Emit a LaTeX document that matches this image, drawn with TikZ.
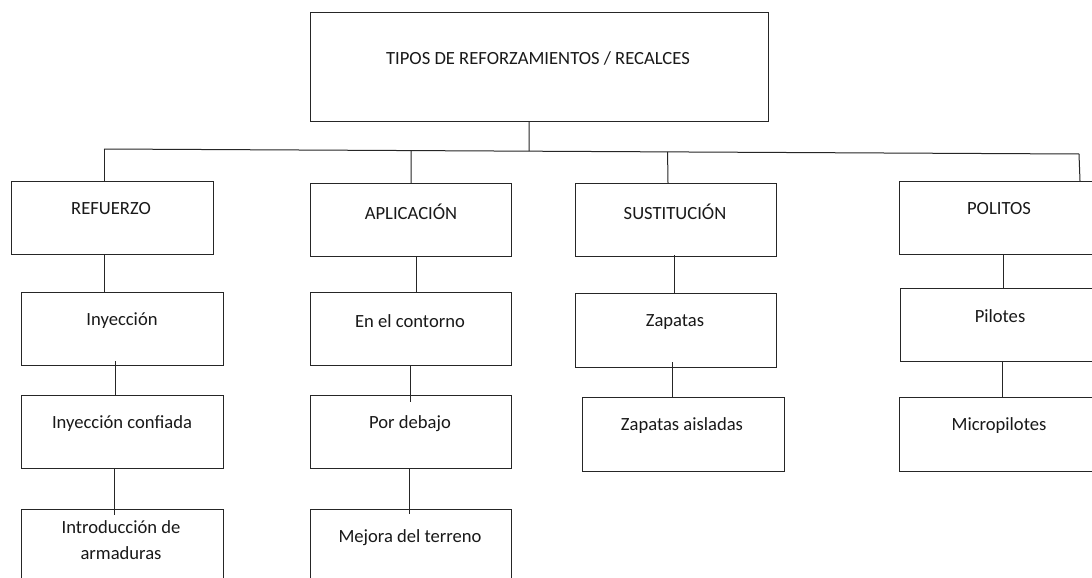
\documentclass[tikz,border=0pt]{standalone}
\usepackage{fontspec}
\setmainfont{Carlito}
\usetikzlibrary{calc}
\begin{document}
\begin{tikzpicture}[x=1pt,y=-1pt,
  box/.style={draw=black!85, line width=1.1pt, rectangle, inner sep=0pt, anchor=north west, fill=none},
  txt/.style={font=\fontsize{18.6}{26}\selectfont, text=black!90, inner sep=0pt, align=center, anchor=center},
  conn/.style={draw=black!85, line width=1pt}]
\useasboundingbox (0,0) rectangle (1092,578);
\clip (0,0) rectangle (1092,578);
\fill[white] (0,0) rectangle (1092,578);
% boxes
\node[box, minimum width=458pt, minimum height=109pt] (top) at (310,12) {};
\node[box, minimum width=202pt, minimum height=73pt] (refuerzo) at (11,181) {};
\node[box, minimum width=201pt, minimum height=73pt] (aplicacion) at (310,183) {};
\node[box, minimum width=201pt, minimum height=73pt] (sustitucion) at (575,183) {};
\node[box, minimum width=202pt, minimum height=73pt] (politos) at (899,181) {};
\node[box, minimum width=202pt, minimum height=73pt] (inyeccion) at (21,292) {};
\node[box, minimum width=201pt, minimum height=73pt] (contorno) at (310,292) {};
\node[box, minimum width=201pt, minimum height=74pt] (zapatas) at (575,293) {};
\node[box, minimum width=202pt, minimum height=73pt] (pilotes) at (900,288) {};
\node[box, minimum width=202pt, minimum height=73pt] (confiada) at (21,395) {};
\node[box, minimum width=201pt, minimum height=73pt] (debajo) at (310,395) {};
\node[box, minimum width=202pt, minimum height=74pt] (aisladas) at (582,397) {};
\node[box, minimum width=202pt, minimum height=74pt] (micro) at (899,397) {};
\node[box, minimum width=202pt, minimum height=80pt] (intro) at (21,509) {};
\node[box, minimum width=201pt, minimum height=80pt] (mejora) at (310,509) {};
% texts
\node[txt] (ttop) at (538,58) {TIPOS DE REFORZAMIENTOS / RECALCES};
\node[txt] (trefuerzo) at (111,209) {REFUERZO};
\node[txt] (taplicacion) at (411,212) {APLICACIÓN};
\node[txt] (tsustitucion) at (675,212) {SUSTITUCIÓN};
\node[txt] (tpolitos) at (999,209) {POLITOS};
\node[txt] (tinyeccion) at (122,321) {Inyección};
\node[txt] (tcontorno) at (410,321) {En el contorno};
\node[txt] (tzapatas) at (675,322) {Zapatas};
\node[txt] (tpilotes) at (1000,316) {Pilotes};
\node[txt] (tconfiada) at (122,424) {Inyección confiada};
\node[txt] (tdebajo) at (410,424) {Por debajo};
\node[txt] (taisladas) at (682,426) {Zapatas aisladas};
\node[txt] (tmicro) at (999,426) {Micropilotes};
\node[txt] (tintro) at (121,540) {Introducción de\\armaduras};
\node[txt] (tmejora) at (410,538) {Mejora del terreno};
% bus
\coordinate (busL) at (104,149);
\coordinate (busR) at (1079,154);
\draw[conn] (busL) -- (busR);
\draw[conn] (top.south -| 529,0) -- ($(busL)!0.436!(busR)$);
\draw[conn] (busL) -- (busL |- refuerzo.north);
\draw[conn] ($(busL)!0.315!(busR)$) -- (411,0 |- aplicacion.north);
\draw[conn] ($(busL)!0.578!(busR)$) -- (668,0 |- sustitucion.north);
\draw[conn] (busR) -- (1080,0 |- politos.north);
% level connectors
\draw[conn] (refuerzo.south -| 104,0) -- (inyeccion.north -| 104,0);
\draw[conn] (aplicacion.south -| 416,0) -- (contorno.north -| 416,0);
\draw[conn] ([yshift=2pt]sustitucion.south -| 674,0) -- (zapatas.north -| 674,0);
\draw[conn] (politos.south -| 1003,0) -- (pilotes.north -| 1003,0);
\draw[conn] ([yshift=5pt]inyeccion.south -| 115,0) -- (confiada.north -| 115,0);
\draw[conn] (contorno.south -| 410.5,0) -- ([yshift=-7pt]debajo.north -| 410.5,0);
\draw[conn] ([yshift=6pt]zapatas.south -| 672,0) -- (aisladas.north -| 672,0);
\draw[conn] (pilotes.south -| 1002,0) -- (micro.north -| 1002,0);
\draw[conn] (confiada.south -| 114,0) -- ([yshift=-6pt]intro.north -| 114,0);
\draw[conn] (debajo.south -| 409.5,0) -- ([yshift=-5pt]mejora.north -| 409.5,0);
\end{tikzpicture}
\end{document}
